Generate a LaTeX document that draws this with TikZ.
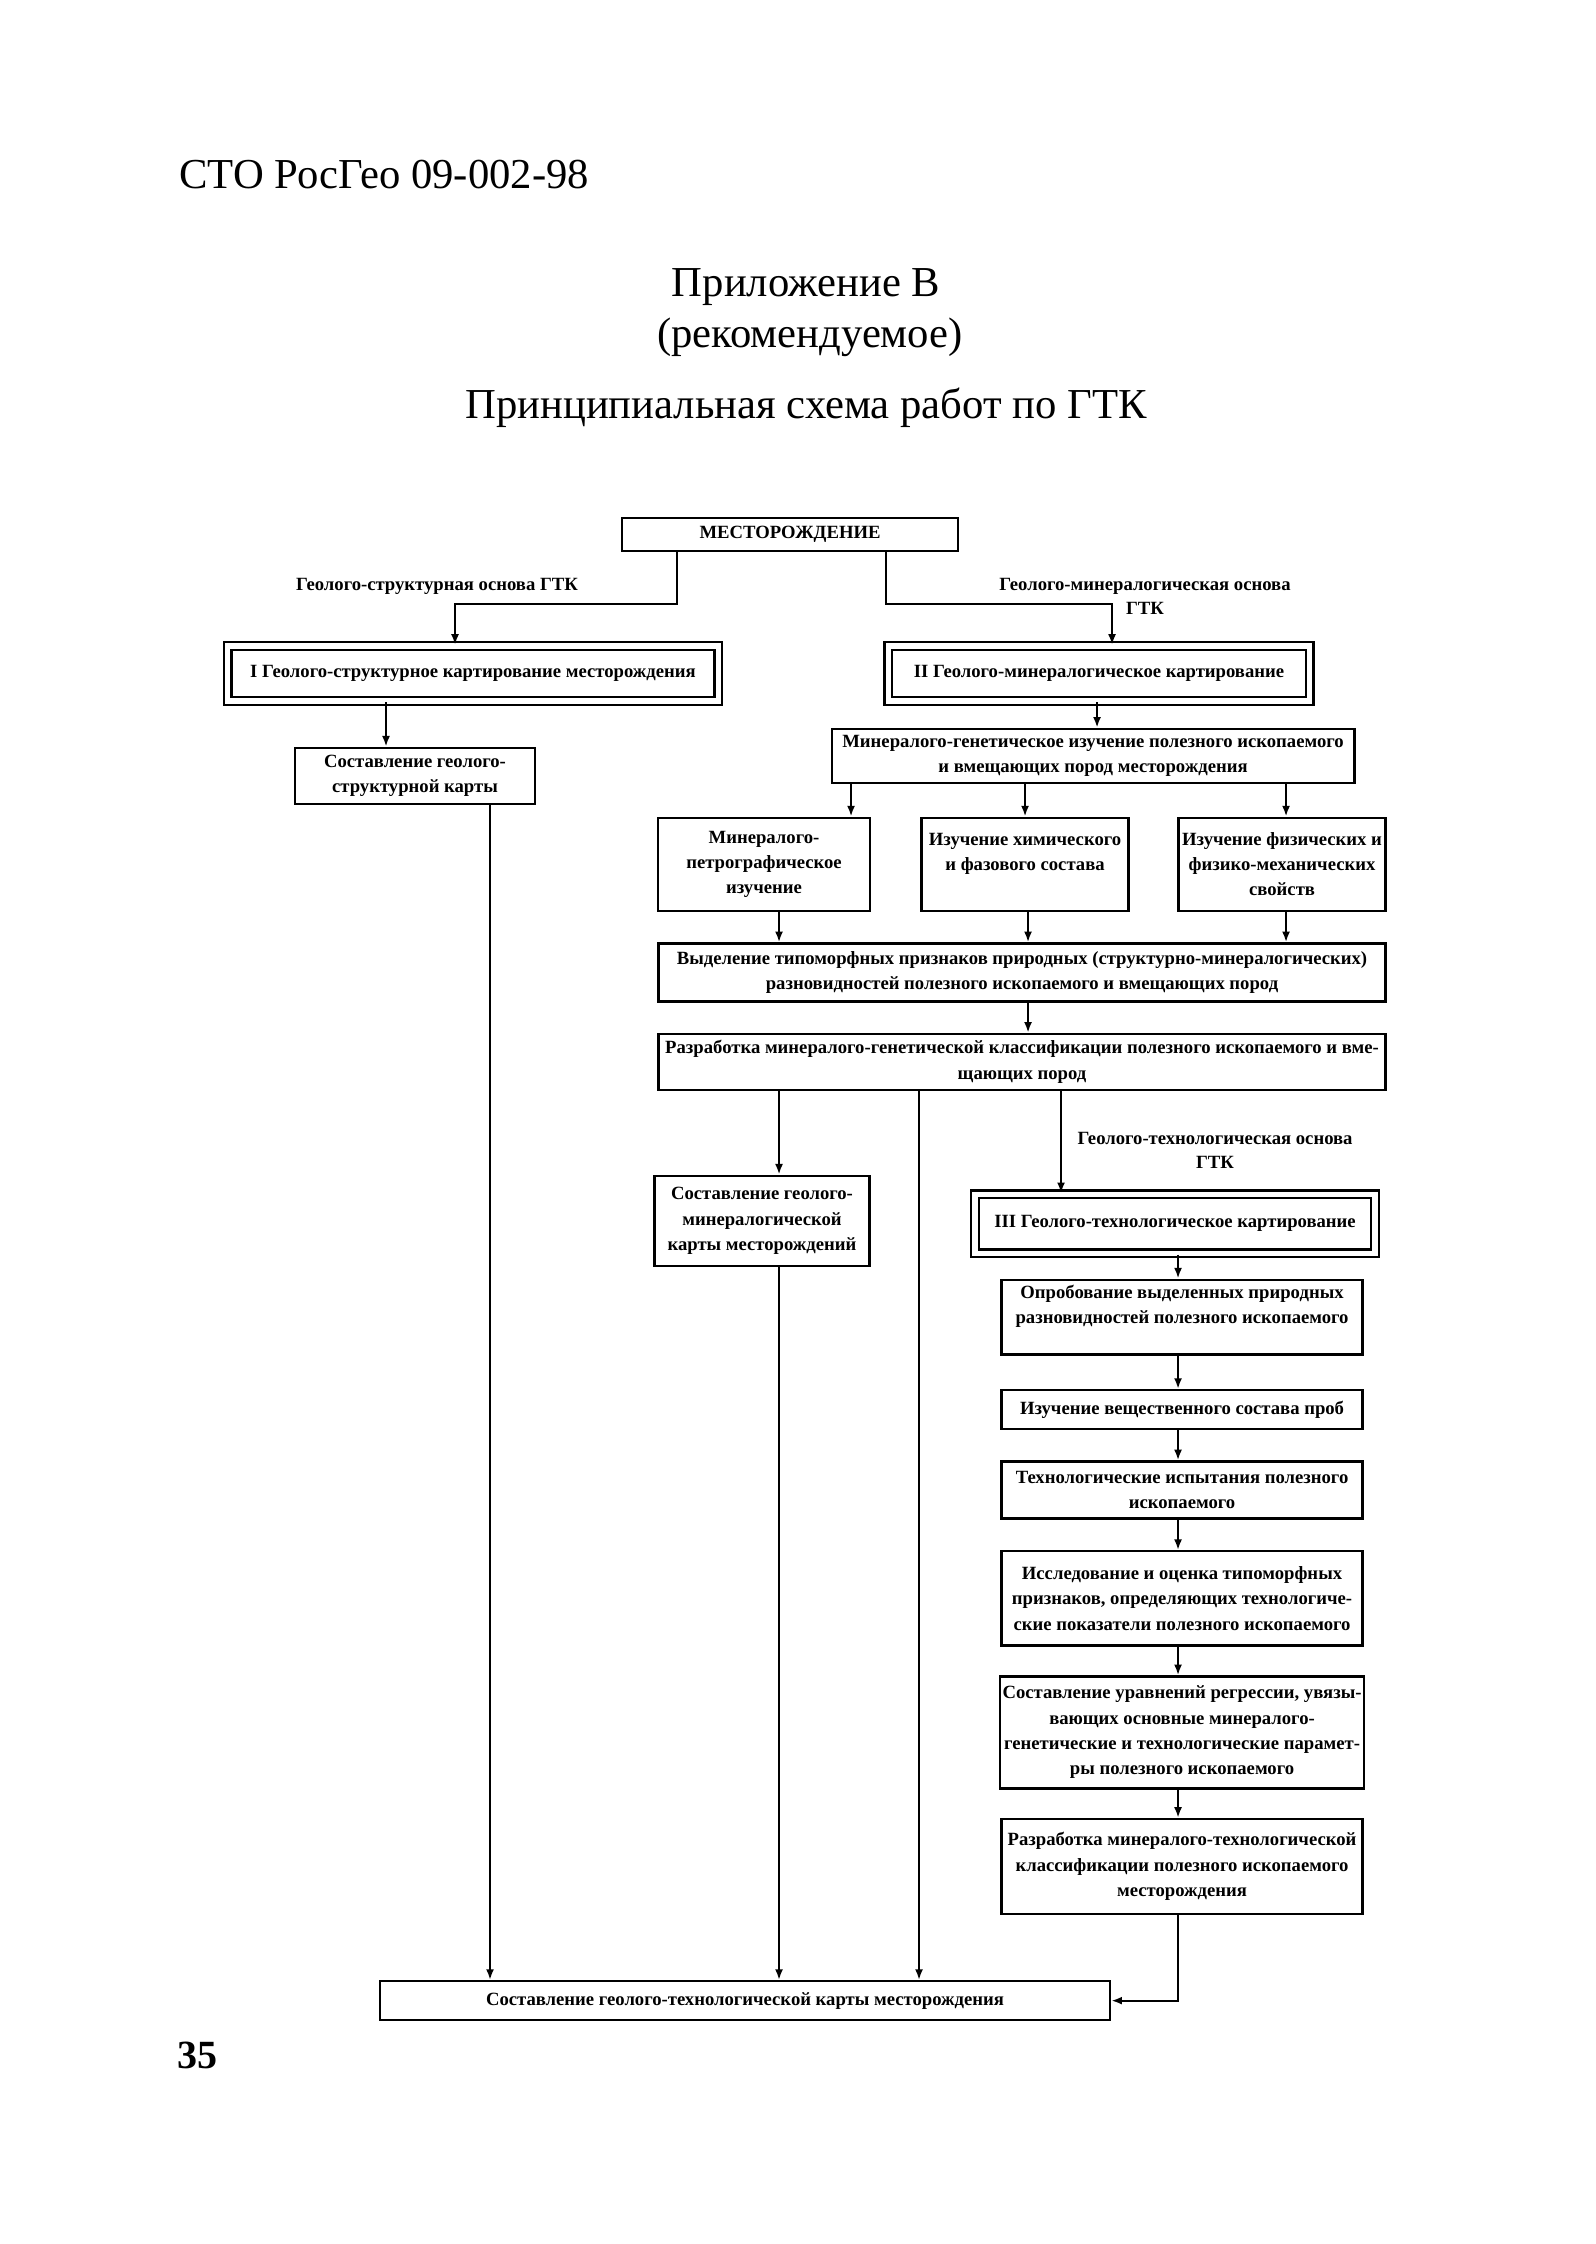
\documentclass[tikz,border=0pt]{standalone}
\usepackage{fontspec}
\setmainfont{Liberation Serif}
\usetikzlibrary{arrows.meta}

\begin{document}
\begin{tikzpicture}[x=0.375pt,y=-0.3725pt,
  box/.style={draw,line width=0.9pt,align=center,inner sep=1pt,font=\fontsize{7}{9.5}\selectfont\bfseries},
  dbox/.style={box,double,double distance=2pt},
  lbl/.style={align=center,inner sep=0pt,font=\fontsize{7}{9}\selectfont\bfseries},
  arr/.style={line width=0.8pt,-{Latex[length=4pt,width=3pt]}},
  ttl/.style={font=\fontsize{16}{19}\selectfont}]
\useasboundingbox (0,0) rectangle (1595,2259);

% page head
\node[ttl,anchor=west] (std) at (170,176) {СТО РосГео 09-002-98};
\node[ttl] (app) at (806,289) {Приложение В};
\node[ttl] (rec) at (810,340) {(рекомендуемое)};
\node[ttl] (head) at (806,410) {Принципиальная схема работ по ГТК};

% top part
\node[box,minimum width=126pt,minimum height=12.4pt] (dep) at (790,538) {МЕСТОРОЖДЕНИЕ};
\node[lbl] (lblS) at (437,590) {Геолого-структурная основа ГТК};
\node[lbl] (lblM) at (1145,600) {Геолого-минералогическая основа\\ГТК};
\node[dbox,minimum width=184pt,minimum height=20.6pt] (mapI) at (473,678) {I Геолого-структурное картирование месторождения};
\node[dbox,minimum width=158pt,minimum height=20.6pt] (mapII) at (1099,678) {II Геолого-минералогическое картирование};
\node[box,minimum width=90pt,minimum height=21pt] (skarta) at (415,781) {Составление геолого-\\структурной карты};
\node[box,minimum width=196pt,minimum height=20.3pt] (mgiz) at (1093,761) {Минералого-генетическое изучение полезного ископаемого\\и вмещающих пород месторождения};

% studies
\node[box,minimum width=79.5pt,minimum height=34.9pt] (petro) at (764,870) {Минералого-\\петрографическое\\изучение};
\node[box,minimum width=77.6pt,minimum height=34.9pt] (chem) at (1025,870) {Изучение химического\\и фазового состава\\\mbox{}};
\node[box,minimum width=77.6pt,minimum height=34.9pt] (phys) at (1282,870) {Изучение физических и\\физико-механических\\свойств};
\node[box,minimum width=272.6pt,minimum height=21.8pt] (typ) at (1022,979) {Выделение типоморфных признаков природных (структурно-минералогических)\\разновидностей полезного ископаемого и вмещающих пород};
\node[box,minimum width=272.6pt,minimum height=21pt] (mgcl) at (1022,1069) {Разработка минералого-генетической классификации полезного ископаемого и вме-\\щающих пород};
\node[lbl] (lblT) at (1215,1158) {Геолого-технологическая основа\\ГТК};
\node[box,minimum width=80.6pt,minimum height=33.8pt] (gmkarta) at (762,1229) {Составление геолого-\\минералогической\\карты месторождений};
\node[dbox,minimum width=150pt,minimum height=22.1pt] (mapIII) at (1175,1232) {III Геолого-технологическое картирование};

% technology column
\node[box,minimum width=135.4pt,minimum height=28.1pt] (prob) at (1182,1326) {Опробование выделенных природных\\разновидностей полезного ископаемого\\\mbox{}};
\node[box,minimum width=135.4pt,minimum height=14.6pt] (vesch) at (1182,1419) {Изучение вещественного состава проб};
\node[box,minimum width=135.4pt,minimum height=21.4pt] (ispyt) at (1182,1500) {Технологические испытания полезного\\ископаемого};
\node[box,minimum width=135.4pt,minimum height=35.3pt] (issl) at (1182,1609) {Исследование и оценка типоморфных\\признаков, определяющих технологиче-\\ские показатели полезного ископаемого};
\node[box,minimum width=135.4pt,minimum height=42pt] (uravn) at (1182,1744) {Составление уравнений регрессии, увязы-\\вающих основные минералого-\\генетические и технологические парамет-\\ры полезного ископаемого};
\node[box,minimum width=135.4pt,minimum height=35.6pt] (mtcl) at (1182,1879) {Разработка минералого-технологической\\классификации полезного ископаемого\\месторождения};
\node[box,minimum width=273.8pt,minimum height=14.6pt] (gtkarta) at (745,2014) {Составление геолого-технологической карты месторождения};

\node[anchor=west,font=\fontsize{15}{18}\selectfont\bfseries] (pnum) at (168,2069) {35};

% connectors
\draw[arr] (dep.south -| 677,0) -- (677,608) -| (mapI.north -| 455,0);
\draw[arr] (dep.south -| 886,0) -- (886,608) -| (mapII.north -| 1112,0);
\draw[arr] (mapI.south -| 386,0) -- (skarta.north -| 386,0);
\draw[arr] (skarta.south -| 490,0) -- (gtkarta.north -| 490,0);
\draw[arr] (mapII.south -| 1097,0) -- (mgiz.north -| 1097,0);
\foreach \n/\x in {petro/851, chem/1025, phys/1286}
  \draw[arr] (mgiz.south -| \x,0) -- (\n.north -| \x,0);
\foreach \n/\x in {petro/779, chem/1028, phys/1286}
  \draw[arr] (\n.south -| \x,0) -- (typ.north -| \x,0);
\draw[arr] (typ.south -| 1028,0) -- (mgcl.north -| 1028,0);
\draw[arr] (mgcl.south -| 779,0) -- (gmkarta.north -| 779,0);
\draw[arr] (mgcl.south -| 919,0) -- (gtkarta.north -| 919,0);
\draw[arr] (mgcl.south -| 1061,0) -- (mapIII.north -| 1061,0);
\draw[arr] (gmkarta.south -| 779,0) -- (gtkarta.north -| 779,0);
\foreach \a/\b in {mapIII/prob, prob/vesch, vesch/ispyt, ispyt/issl, issl/uravn, uravn/mtcl}
  \draw[arr] (\a.south -| 1178,0) -- (\b.north -| 1178,0);
\draw[arr] (mtcl.south -| 1178,0) |- (gtkarta.east);
\end{tikzpicture}
\end{document}
